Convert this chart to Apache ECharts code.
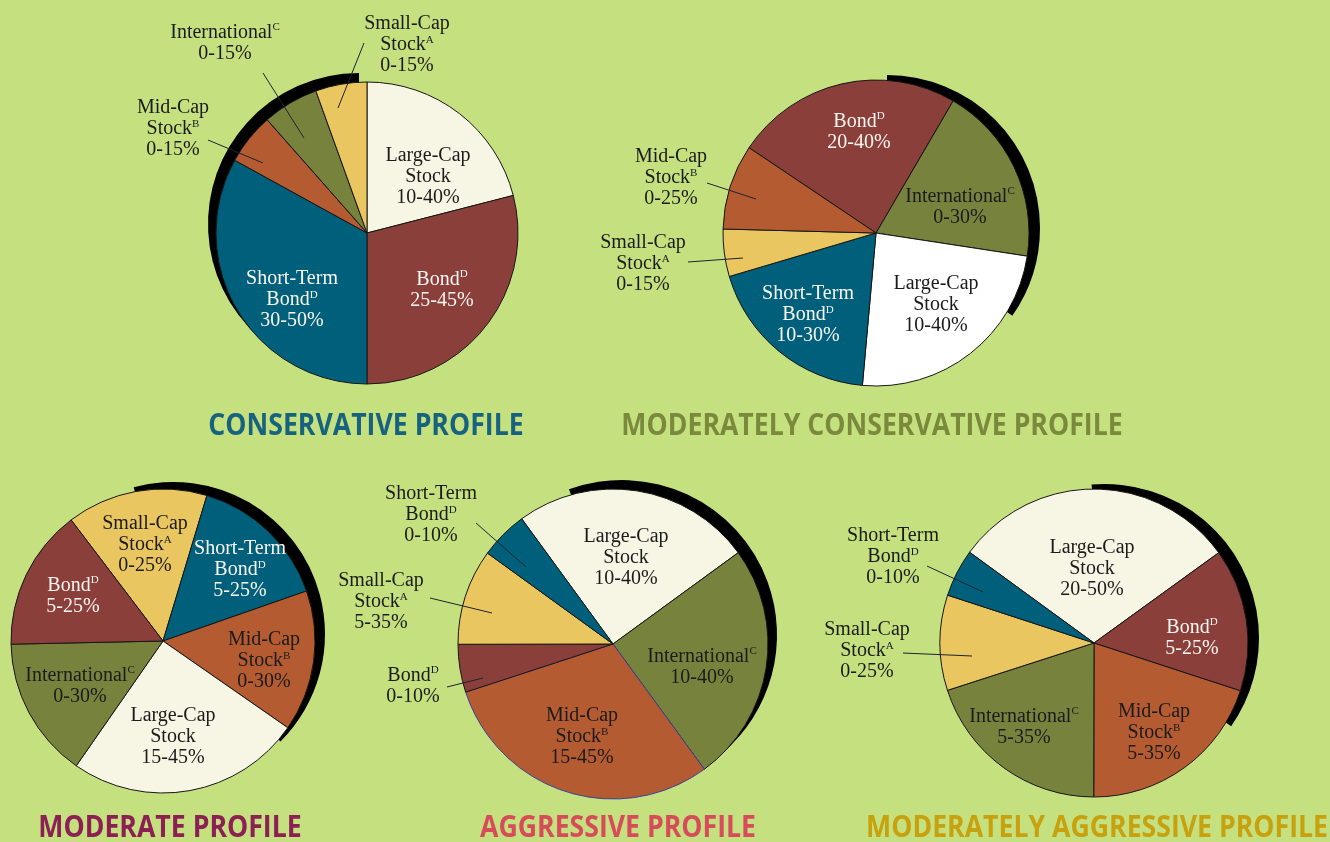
<!DOCTYPE html>
<html>
<head>
<meta charset="utf-8">
<script src="https://cdn.jsdelivr.net/npm/echarts@6.0.0/dist/echarts.min.js"></script>
<style>
  html, body { margin: 0; padding: 0; background: #c5e17f; }
  #main { width: 1330px; height: 842px; }
</style>
</head>
<body>
<div id="main"></div>
<script>
// asset-allocation ranges per profile, slices listed clockwise

// conservative
var consCats = ['Large-Cap Stock', 'Bond', 'Short-Term Bond', 'Mid-Cap Stock', 'International', 'Small-Cap Stock'];
var consShare = [21, 29, 33, 5.5, 6, 5.5];
var consRange = ['10-40%', '25-45%', '30-50%', '0-15%', '0-15%', '0-15%'];

// moderately conservative
var modConsCats = ['Bond', 'International', 'Large-Cap Stock', 'Short-Term Bond', 'Small-Cap Stock', 'Mid-Cap Stock'];
var modConsShare = [24, 19, 24, 19, 5, 9];
var modConsRange = ['20-40%', '0-30%', '10-40%', '10-30%', '0-15%', '0-25%'];

// moderate
var modCats = ['Small-Cap Stock', 'Short-Term Bond', 'Mid-Cap Stock', 'Large-Cap Stock', 'International', 'Bond'];
var modShare = [15, 15, 15, 25, 15, 15];
var modRange = ['0-25%', '5-25%', '0-30%', '15-45%', '0-30%', '5-25%'];

// aggressive
var aggCats = ['Large-Cap Stock', 'International', 'Mid-Cap Stock', 'Bond', 'Small-Cap Stock', 'Short-Term Bond'];
var aggShare = [25, 25, 30, 5, 10, 5];
var aggRange = ['10-40%', '10-40%', '15-45%', '0-10%', '5-35%', '0-10%'];

// moderately aggressive
var modAggCats = ['Large-Cap Stock', 'Bond', 'Mid-Cap Stock', 'International', 'Small-Cap Stock', 'Short-Term Bond'];
var modAggShare = [30, 15, 20, 20, 10, 5];
var modAggRange = ['20-50%', '5-25%', '5-35%', '5-35%', '0-25%', '0-10%'];

var titles = ['CONSERVATIVE PROFILE', 'MODERATELY CONSERVATIVE PROFILE', 'MODERATE PROFILE',
              'AGGRESSIVE PROFILE', 'MODERATELY AGGRESSIVE PROFILE'];

var SERIF = '"Liberation Serif", "DejaVu Serif", serif';

var fills = {
  'Large-Cap Stock': '#f7f6e4',
  'Bond': '#8b3f3b',
  'Short-Term Bond': '#00607b',
  'Mid-Cap Stock': '#b45b31',
  'International': '#77823d',
  'Small-Cap Stock': '#eac660'
};

var labelText = {
  'Large-Cap Stock': 'Large-Cap\nStock',
  'Bond': 'Bond{s|D}',
  'Short-Term Bond': 'Short-Term\nBond{s|D}',
  'Mid-Cap Stock': 'Mid-Cap\nStock{s|B}',
  'International': 'International{s|C}',
  'Small-Cap Stock': 'Small-Cap\nStock{s|A}'
};

// overlay = false: the coloured pie with the inside labels
// overlay = true: same slices, transparent, carrying the outside labels and leader lines
function makePie(p, overlay) {
  var cx = p.center[0], cy = p.center[1];
  return {
    type: 'pie',
    center: p.center,
    radius: p.radius,
    startAngle: p.startAngle,
    clockwise: true,
    avoidLabelOverlap: false,
    animation: false,
    silent: true,
    z: overlay ? 5 : 3,
    itemStyle: overlay ? { color: 'rgba(0,0,0,0)', borderWidth: 0 } : { borderColor: '#161616', borderWidth: 1 },
    label: {
      show: true,
      position: overlay ? 'outside' : 'inside',
      fontFamily: SERIF,
      fontSize: 20,
      lineHeight: 21,
      color: '#1b1b1b',
      formatter: function (params) {
        return labelText[params.name] + '\n' + p.ranges[params.dataIndex];
      },
      rich: {
        s: { fontFamily: SERIF, fontSize: 11, lineHeight: 12, verticalAlign: 'top' }
      }
    },
    labelLine: {
      show: overlay, showAbove: true, length: 5, length2: 5,
      lineStyle: { color: '#1c2330', width: 1 }
    },
    labelLayout: function (params) {
      var off = p.labelAt[params.dataIndex];
      var out = { x: cx + off[0], y: cy + off[1], align: 'center', verticalAlign: 'middle' };
      var ln = p.lines[params.dataIndex];
      if (ln) {
        out.labelLinePoints = [[cx + ln[2], cy + ln[3]], [cx + ln[0], cy + ln[1]], [cx + ln[0], cy + ln[1]]];
      }
      return out;
    },
    data: p.cats.map(function (c, i) {
      var outside = !!p.lines[i];
      var d = { name: c, value: p.shares[i], label: {} };
      if (overlay) {
        d.label.show = outside;
        d.labelLine = { show: outside };
      } else {
        d.itemStyle = { color: (p.fills && p.fills[c]) || fills[c] };
        if (p.edge && p.edge[c]) d.itemStyle.borderColor = p.edge[c];
        d.label.show = !outside;
        if (c === 'Bond' || c === 'Short-Term Bond') d.label.color = '#fbf6f0';
      }
      return d;
    })
  };
}

// black crescent behind each pie
function makeShadow(center, offset, radius, fromAngle, toAngle) {
  return {
    type: 'pie',
    center: [center[0] + offset[0], center[1] + offset[1]],
    radius: radius,
    startAngle: fromAngle,
    endAngle: toAngle,
    clockwise: true,
    silent: true,
    animation: false,
    z: 1,
    label: { show: false },
    labelLine: { show: false },
    itemStyle: { color: '#000000', borderWidth: 0 },
    data: [{ name: 'shadow', value: 1 }]
  };
}

var pies = [
  {
    cats: consCats, shares: consShare, ranges: consRange,
    center: [367, 233], radius: 151, startAngle: 90,
    labelAt: [[61, -56], [75, 57], [-75, 67], [-194, -104], [-142, -190], [40, -188]],
    lines: [null, null, null, [-104, -70, -159, -93], [-63, -95, -104, -160], [-29, -125, -3, -190]],
    shadow: [[-8, -9], 228, 90]
  },
  {
    cats: modConsCats, shares: modConsShare, ranges: modConsRange,
    center: [876, 233], radius: 153, startAngle: 146.1,
    fills: { 'Large-Cap Stock': '#ffffff' },
    labelAt: [[-17, -101], [84, -26], [60, 72], [-68, 82], [-233, 31], [-205, -55]],
    lines: [null, null, null, null, [-133, 25, -188, 29], [-120, -34, -169, -50]],
    shadow: [[11, -5], 90, -35]
  },
  {
    cats: modCats, shares: modShare, ranges: modRange,
    center: [163, 641], radius: 152, startAngle: 127.2,
    labelAt: [[-18, -96], [77, -71], [101, 20], [10, 96], [-83, 45], [-90, -45]],
    lines: [null, null, null, null, null, null],
    shadow: [[10, -7], 105, -45]
  },
  {
    cats: aggCats, shares: aggShare, ranges: aggRange,
    center: [613, 644], radius: 155, startAngle: 126.1,
    edge: { 'Mid-Cap Stock': '#3a42a0' },
    labelAt: [[13, -86], [89, 23], [-31, 93], [-200, 42], [-232, -42], [-182, -129]],
    lines: [null, null, null, [-130, 34, -166, 43], [-121, -31, -183, -46], [-87, -77, -137, -121]],
    shadow: [[9, -9], 110, -50]
  },
  {
    cats: modAggCats, shares: modAggShare, ranges: modAggRange,
    center: [1094, 643], radius: 154, startAngle: 143.9,
    labelAt: [[-2, -74], [98, -5], [60, 90], [-70, 84], [-227, 8], [-201, -86]],
    lines: [null, null, null, null, [-122, 13, -191, 10], [-111, -51, -167, -77]],
    shadow: [[11, -5], 95, -35]
  }
];

var titleStyle = [
  { x: 366, y: 426, color: '#17637f' },
  { x: 872, y: 426, color: '#7a893b' },
  { x: 170, y: 828, color: '#8c1f54' },
  { x: 618, y: 828, color: '#d84b5b' },
  { x: 1097, y: 828, color: '#c8a10f' }
];

var series = [];
pies.forEach(function (p) {
  series.push(makeShadow(p.center, p.shadow[0], p.radius, p.shadow[1], p.shadow[2]));
  series.push(makePie(p, false));
  if (p.lines.some(function (l) { return l; })) series.push(makePie(p, true));
});

var chart = echarts.init(document.getElementById('main'), null, { renderer: 'canvas' });
chart.setOption({
  backgroundColor: '#c5e17f',
  animation: false,
  series: series,
  graphic: titles.map(function (t, i) {
    var s = titleStyle[i];
    return {
      type: 'text',
      x: s.x,
      y: s.y,
      scaleX: 0.86,
      silent: true,
      z: 10,
      style: {
        text: t,
        fill: s.color,
        font: 'bold 31px "Open Sans", "Noto Sans", sans-serif',
        align: 'center',
        verticalAlign: 'middle',
        textAlign: 'center',
        textVerticalAlign: 'middle'
      }
    };
  })
});
</script>
</body>
</html>
